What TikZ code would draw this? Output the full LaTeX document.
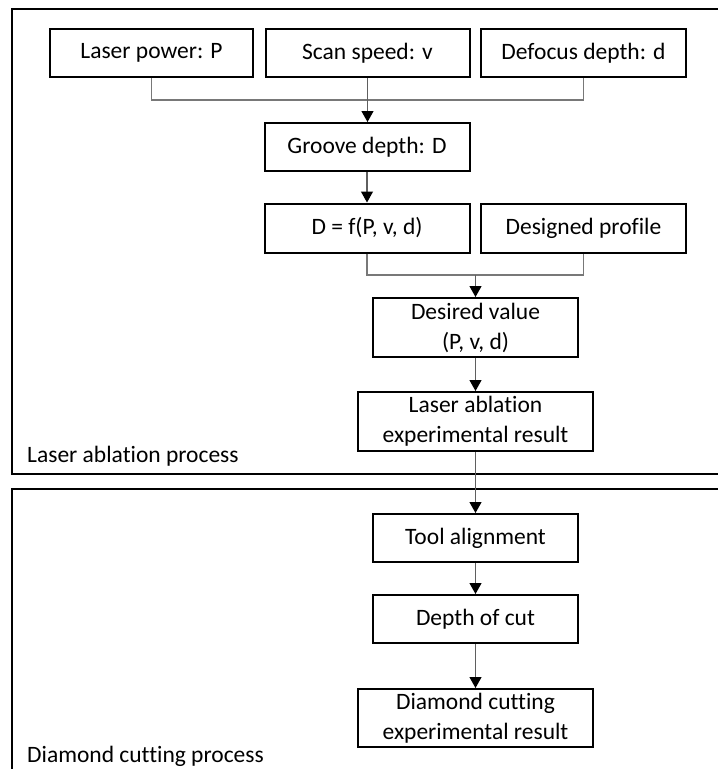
\documentclass[tikz,border=0pt]{standalone}
\usepackage{fontspec}
\setmainfont{Carlito}[Ligatures={NoCommon}]
\usetikzlibrary{arrows.meta}
\definecolor{conncol}{RGB}{95,95,95}
\definecolor{bracketcol}{RGB}{120,120,120}
\tikzset{
  box/.style={draw=black, line width=2pt, inner sep=0pt, align=center,
    font=\fontsize{23.5}{30}\selectfont, anchor=center},
  frame/.style={draw=black, line width=2.2pt},
  conn/.style={draw=conncol, line width=1.1pt},
  bracket/.style={draw=bracketcol, line width=1.1pt},
  arr/.style={conn, -{Triangle[width=12pt,length=11pt,black]}},
  proclabel/.style={anchor=base west, inner sep=0pt, font=\fontsize{23.5}{28}\selectfont}
}
\begin{document}
\begin{tikzpicture}[x=1pt,y=-1pt]
\useasboundingbox (0,0) rectangle (718,769);
\clip (0,0) rectangle (718,769);
% frames
\draw[frame] (12,9) rectangle (740,474);
\draw[frame] (12,489) rectangle (740,800);
\node[proclabel] (lab1) at (27,462) {Laser ablation process};
\node[proclabel] (lab2) at (27,762) {Diamond cutting process};
% nodes
\node[box, minimum width=203pt, minimum height=48pt] (lp) at (151.5,53) {Laser power: P};
\node[box, minimum width=204pt, minimum height=48pt] (ss) at (367.5,53) {Scan speed: v};
\node[box, minimum width=205pt, minimum height=48pt] (dd) at (583.5,53) {Defocus depth: d};
\node[box, minimum width=205pt, minimum height=48pt] (gd) at (367,147) {Groove depth: D};
\node[box, minimum width=205pt, minimum height=49pt] (df) at (367,228) {D = f(P, v, d)};
\node[box, minimum width=205pt, minimum height=49pt] (dp) at (583.5,228) {Designed profile};
\node[box, minimum width=205pt, minimum height=59pt] (dv) at (475.5,327.5) {Desired value\\(P, v, d)};
\node[box, minimum width=235pt, minimum height=59pt] (la) at (475.5,421.5) {Laser ablation\\experimental result};
\node[box, minimum width=205pt, minimum height=48pt] (ta) at (475.5,538) {Tool alignment};
\node[box, minimum width=205pt, minimum height=48pt] (dc) at (475.5,619) {Depth of cut};
\node[box, minimum width=235pt, minimum height=58pt] (dm) at (475.5,718) {Diamond cutting\\experimental result};
% connectors
\coordinate (j1) at (367.5,100);
\coordinate (j2) at (475.5,275);
\draw[bracket] (lp.south) |- (j1) -| (dd.south);
\draw[arr] (ss.south) -- (ss.south |- gd.north);
\draw[arr] (gd.south) -- (df.north);
\draw[bracket] (df.south) |- (j2) -| (dp.south);
\draw[arr] (j2) -- (dv.north);
\draw[arr] (dv.south) -- (la.north);
\draw[arr] (la.south) -- (ta.north);
\draw[arr] (ta.south) -- (dc.north);
\draw[arr] (dc.south) -- (dm.north);
\end{tikzpicture}
\end{document}
